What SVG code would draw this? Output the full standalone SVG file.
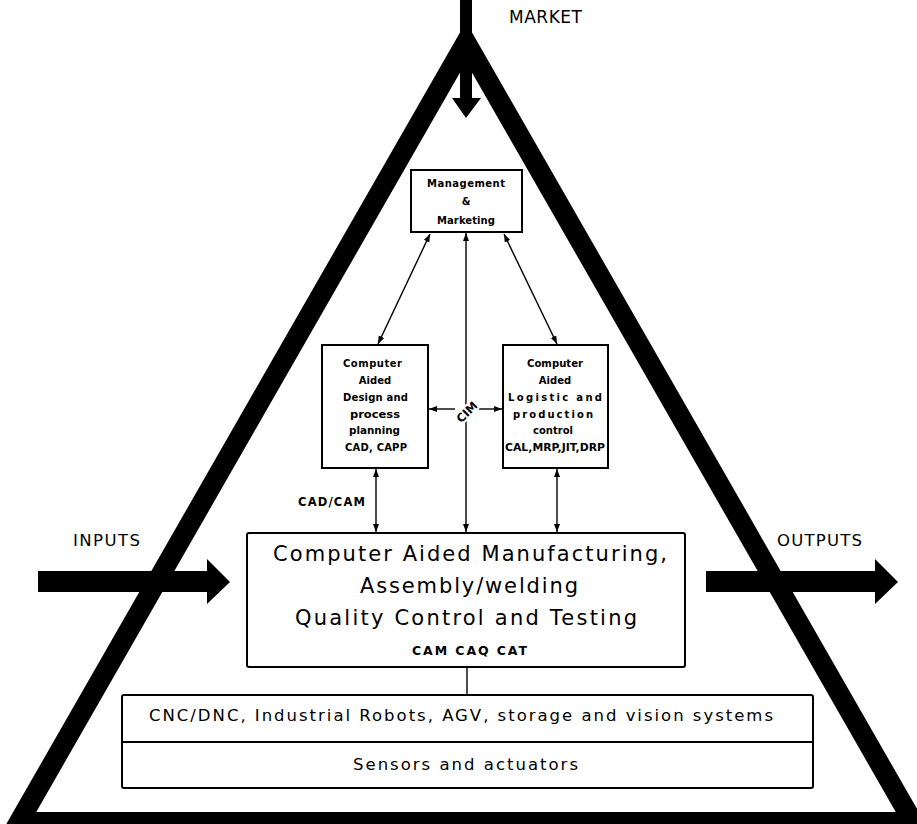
<svg xmlns="http://www.w3.org/2000/svg" width="917" height="824" viewBox="0 0 917 824">
  <style>
    text { font-family: "DejaVu Sans", "Liberation Sans", sans-serif; fill: #000; }
    .big { font-size: 21px; }
    .mid { font-size: 16.5px; }
    .lbl { font-size: 17px; }
    .sm { font-size: 10px; font-weight: bold; }
    .smb { font-size: 11.5px; font-weight: bold; }
    .box { fill: #fff; stroke: #000; stroke-width: 2; }
    .conn { stroke: #000; stroke-width: 1.4; fill: none; }
    .halo { paint-order: stroke; stroke: #fff; stroke-width: 4px; }
  </style>
  <defs>
    <marker id="ah" markerUnits="userSpaceOnUse" markerWidth="9" markerHeight="7" refX="8" refY="3" orient="auto-start-reverse">
      <path d="M0,0 L8,3 L0,6 Z" fill="#000"/>
    </marker>
  </defs>

  <rect width="917" height="824" fill="#fff"/>

  <!-- CIM pyramid frame -->
  <g id="pyramid">
    <path d="M19,822 L466,42 L913,822 Z" fill="none" stroke="#000" stroke-width="20" stroke-linejoin="miter"/>
  </g>

  <!-- flows into and out of the enterprise -->
  <g id="market">
    <polygon points="460,0 472,0 472,98 481,98 466,118 452,98 460,98" fill="#000"/>
    <text class="lbl" x="509" y="23" textLength="73">MARKET</text>
  </g>
  <g id="inputs">
    <polygon points="38,571 207,571 207,559 230,582 207,604 207,592 38,592" fill="#000"/>
    <text class="mid" x="73" y="546" textLength="67">INPUTS</text>
  </g>
  <g id="outputs">
    <polygon points="706,571 875,571 875,559 898,582 875,604 875,592 706,592" fill="#000"/>
    <text class="mid" x="777" y="546" textLength="85">OUTPUTS</text>
  </g>

  <!-- connectors -->
  <g id="connectors">
    <line class="conn" x1="430" y1="234" x2="378" y2="344" marker-start="url(#ah)" marker-end="url(#ah)"/>
    <line class="conn" x1="504" y1="234" x2="557" y2="344" marker-start="url(#ah)" marker-end="url(#ah)"/>
    <line class="conn" x1="466" y1="233" x2="466" y2="532" marker-start="url(#ah)" marker-end="url(#ah)"/>
    <line class="conn" x1="376" y1="469" x2="376" y2="532" marker-start="url(#ah)" marker-end="url(#ah)"/>
    <line class="conn" x1="557" y1="469" x2="557" y2="532" marker-start="url(#ah)" marker-end="url(#ah)"/>
    <line class="conn" x1="455" y1="409" x2="429" y2="409" marker-end="url(#ah)"/>
    <line class="conn" x1="479" y1="409" x2="502" y2="409" marker-end="url(#ah)"/>
    <line class="conn" x1="467" y1="667" x2="467" y2="695"/>
    <text class="smb halo" x="467" y="416" text-anchor="middle" transform="rotate(-45 467 412)">CIM</text>
    <text class="smb" x="298" y="506" textLength="67">CAD/CAM</text>
  </g>

  <g id="management">
    <rect class="box" x="411" y="170" width="111" height="62"/>
    <text class="sm" x="427" y="187" textLength="78">Management</text>
    <text class="sm" x="466" y="205" text-anchor="middle">&amp;</text>
    <text class="sm" x="437" y="224" textLength="58">Marketing</text>
  </g>

  <g id="cad">
    <rect class="box" x="322" y="345" width="106" height="123"/>
    <text class="sm" x="343" y="367" textLength="59">Computer</text>
    <text class="sm" x="375" y="384" text-anchor="middle">Aided</text>
    <text class="sm" x="343" y="401" textLength="65">Design and</text>
    <text class="sm" x="350" y="418" textLength="50" lengthAdjust="spacingAndGlyphs">process</text>
    <text class="sm" x="349" y="434" textLength="51" lengthAdjust="spacingAndGlyphs">planning</text>
    <text class="sm" x="345" y="451" textLength="62">CAD, CAPP</text>
  </g>

  <g id="cal">
    <rect class="box" x="503" y="345" width="105" height="123"/>
    <text class="sm" x="527" y="367" textLength="56" lengthAdjust="spacingAndGlyphs">Computer</text>
    <text class="sm" x="555" y="384" text-anchor="middle">Aided</text>
    <text class="sm" x="508" y="401" textLength="94">Logistic and</text>
    <text class="sm" x="513" y="418" textLength="80">production</text>
    <text class="sm" x="553" y="434" text-anchor="middle">control</text>
    <text class="sm" x="505" y="451" textLength="100" lengthAdjust="spacingAndGlyphs">CAL,MRP,JIT,DRP</text>
  </g>

  <g id="cam">
    <rect class="box" x="247" y="533" width="438" height="134" rx="2"/>
    <text class="big" x="273" y="561" textLength="394">Computer Aided Manufacturing,</text>
    <text class="big" x="360" y="593" textLength="218">Assembly/welding</text>
    <text class="big" x="295" y="625" textLength="342">Quality Control and Testing</text>
    <text x="412" y="655" font-size="12.5" font-weight="bold" textLength="115">CAM CAQ CAT</text>
  </g>

  <g id="shopfloor">
    <rect class="box" x="122" y="695" width="691" height="93" rx="2"/>
    <line x1="122" y1="742" x2="813" y2="742" stroke="#000" stroke-width="2"/>
    <text class="mid" x="149" y="721" textLength="624">CNC/DNC, Industrial Robots, AGV, storage and vision systems</text>
    <text class="mid" x="353" y="770" textLength="225">Sensors and actuators</text>
  </g>
</svg>
